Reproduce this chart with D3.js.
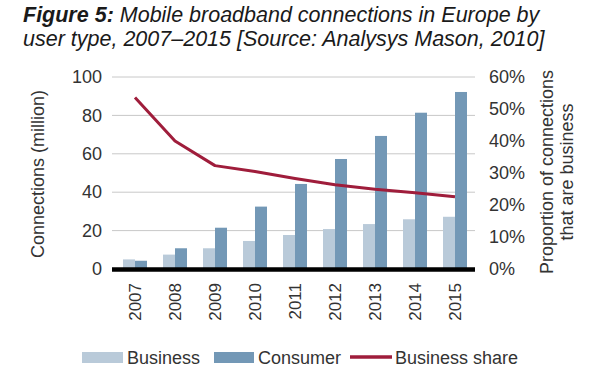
<!DOCTYPE html>
<html>
<head>
<meta charset="utf-8">
<style>
body { margin: 0; background: #fff; }
svg text { font-family: "Liberation Sans", Arial, sans-serif; fill: #333; }
.title { font-style: italic; fill: #1a1a1a; }
.grid line { stroke: #c8c8c8; stroke-width: 1px; }
</style>
</head>
<body>
<svg id="chart" width="600" height="372"></svg>
<script src="https://d3js.org/d3.v7.min.js"></script>
<script>
// data
var years = ["2007", "2008", "2009", "2010", "2011", "2012", "2013", "2014", "2015"];
var business = [5, 7.5, 10.8, 14.6, 17.7, 20.8, 23.4, 25.9, 27.2];
var consumer = [4.3, 10.8, 21.5, 32.5, 44.3, 57.3, 69.3, 81.4, 92.2];
var share = [53.6, 40, 32.3, 30.5, 28.3, 26.3, 24.9, 23.8, 22.6];
var leftTicks = [0, 20, 40, 60, 80, 100];
var rightTicks = [0, 10, 20, 30, 40, 50, 60];

var colBusiness = "#b9cad9", colConsumer = "#7398b6", colLine = "#9f1d3b";

var svg = d3.select("#chart");
var plotLeft = 112, plotRight = 475, plotTop = 77, plotBottom = 269;

var x = d3.scaleBand().domain(years).range([115, 475]).paddingInner(0.4).paddingOuter(0.2);
var xSub = d3.scaleBand().domain(["b", "c"]).range([0, x.bandwidth()]);
var y = d3.scaleLinear().domain([0, 100]).range([plotBottom, plotTop]);
var y2 = d3.scaleLinear().domain([0, 60]).range([plotBottom, plotTop]);

// title
var title = svg.append("text").attr("class", "title").attr("x", 23).attr("y", 22).style("font-size", "21.5px");
title.append("tspan").style("font-weight", "bold").text("Figure 5:");
title.append("tspan").text(" Mobile broadband connections in Europe by");
svg.append("text").attr("class", "title").attr("x", 23).attr("y", 46).style("font-size", "21.5px")
  .text("user type, 2007\u20132015 [Source: Analysys Mason, 2010]");

// grid
svg.append("g").attr("class", "grid").selectAll("line")
  .data(leftTicks.filter(function(d) { return d > 0; }))
  .enter().append("line")
  .attr("x1", plotLeft).attr("x2", plotRight)
  .attr("y1", function(d) { return y(d); }).attr("y2", function(d) { return y(d); });

// left axis
var yAxis = svg.append("g").attr("transform", "translate(" + plotLeft + ",0)")
  .call(d3.axisLeft(y).tickValues(leftTicks).tickSize(0).tickPadding(10));
yAxis.select(".domain").remove();
yAxis.selectAll("text").style("font-size", "18px").style("font-family", "Liberation Sans, Arial, sans-serif").attr("fill", "#333");

// right axis
var y2Axis = svg.append("g").attr("transform", "translate(" + plotRight + ",0)")
  .call(d3.axisRight(y2).tickValues(rightTicks).tickSize(0).tickPadding(14).tickFormat(function(d) { return d + "%"; }));
y2Axis.select(".domain").remove();
y2Axis.selectAll("text").style("font-size", "18px").style("font-family", "Liberation Sans, Arial, sans-serif").attr("fill", "#333");

// bars
var groups = svg.append("g").selectAll("g").data(years).enter().append("g")
  .attr("transform", function(d) { return "translate(" + x(d) + ",0)"; });
groups.append("rect")
  .attr("x", xSub("b")).attr("width", xSub.bandwidth())
  .attr("y", function(d, i) { return y(business[i]); })
  .attr("height", function(d, i) { return y(0) - y(business[i]); })
  .attr("fill", colBusiness);
groups.append("rect")
  .attr("x", xSub("c")).attr("width", xSub.bandwidth())
  .attr("y", function(d, i) { return y(consumer[i]); })
  .attr("height", function(d, i) { return y(0) - y(consumer[i]); })
  .attr("fill", colConsumer);

// baseline
svg.append("line").attr("x1", plotLeft).attr("x2", plotRight)
  .attr("y1", y(0) + 0.5).attr("y2", y(0) + 0.5)
  .attr("stroke", "#000").attr("stroke-width", 4.5);

// share line
var line = d3.line()
  .x(function(d, i) { return x(years[i]) + x.bandwidth() / 2; })
  .y(function(d) { return y2(d); });
svg.append("path").datum(share).attr("d", line)
  .attr("fill", "none").attr("stroke", colLine).attr("stroke-width", 3).attr("stroke-linejoin", "round");

// x labels
svg.append("g").selectAll("text").data(years).enter().append("text")
  .attr("transform", function(d) { return "translate(" + (x(d) + x.bandwidth() / 2 + 6) + ",283) rotate(-90)"; })
  .attr("text-anchor", "end")
  .style("font-size", "17px")
  .text(function(d) { return d; });

// axis titles
svg.append("text")
  .attr("transform", "translate(44,174) rotate(-90)")
  .attr("text-anchor", "middle").style("font-size", "18px")
  .text("Connections (million)");
svg.append("text")
  .attr("transform", "translate(553,172) rotate(-90)")
  .attr("text-anchor", "middle").style("font-size", "18px")
  .text("Proportion of connections");
svg.append("text")
  .attr("transform", "translate(573,172) rotate(-90)")
  .attr("text-anchor", "middle").style("font-size", "18px")
  .text("that are business");

// legend
var legend = svg.append("g");
legend.append("rect").attr("x", 82).attr("y", 352).attr("width", 41).attr("height", 11).attr("fill", colBusiness);
legend.append("text").attr("x", 127).attr("y", 364).style("font-size", "18px").text("Business");
legend.append("rect").attr("x", 214).attr("y", 352).attr("width", 40).attr("height", 11).attr("fill", colConsumer);
legend.append("text").attr("x", 258).attr("y", 364).style("font-size", "18px").text("Consumer");
legend.append("line").attr("x1", 350).attr("x2", 392).attr("y1", 357).attr("y2", 357)
  .attr("stroke", colLine).attr("stroke-width", 3.5);
legend.append("text").attr("x", 395).attr("y", 364).style("font-size", "18px").text("Business share");
</script>
</body>
</html>
